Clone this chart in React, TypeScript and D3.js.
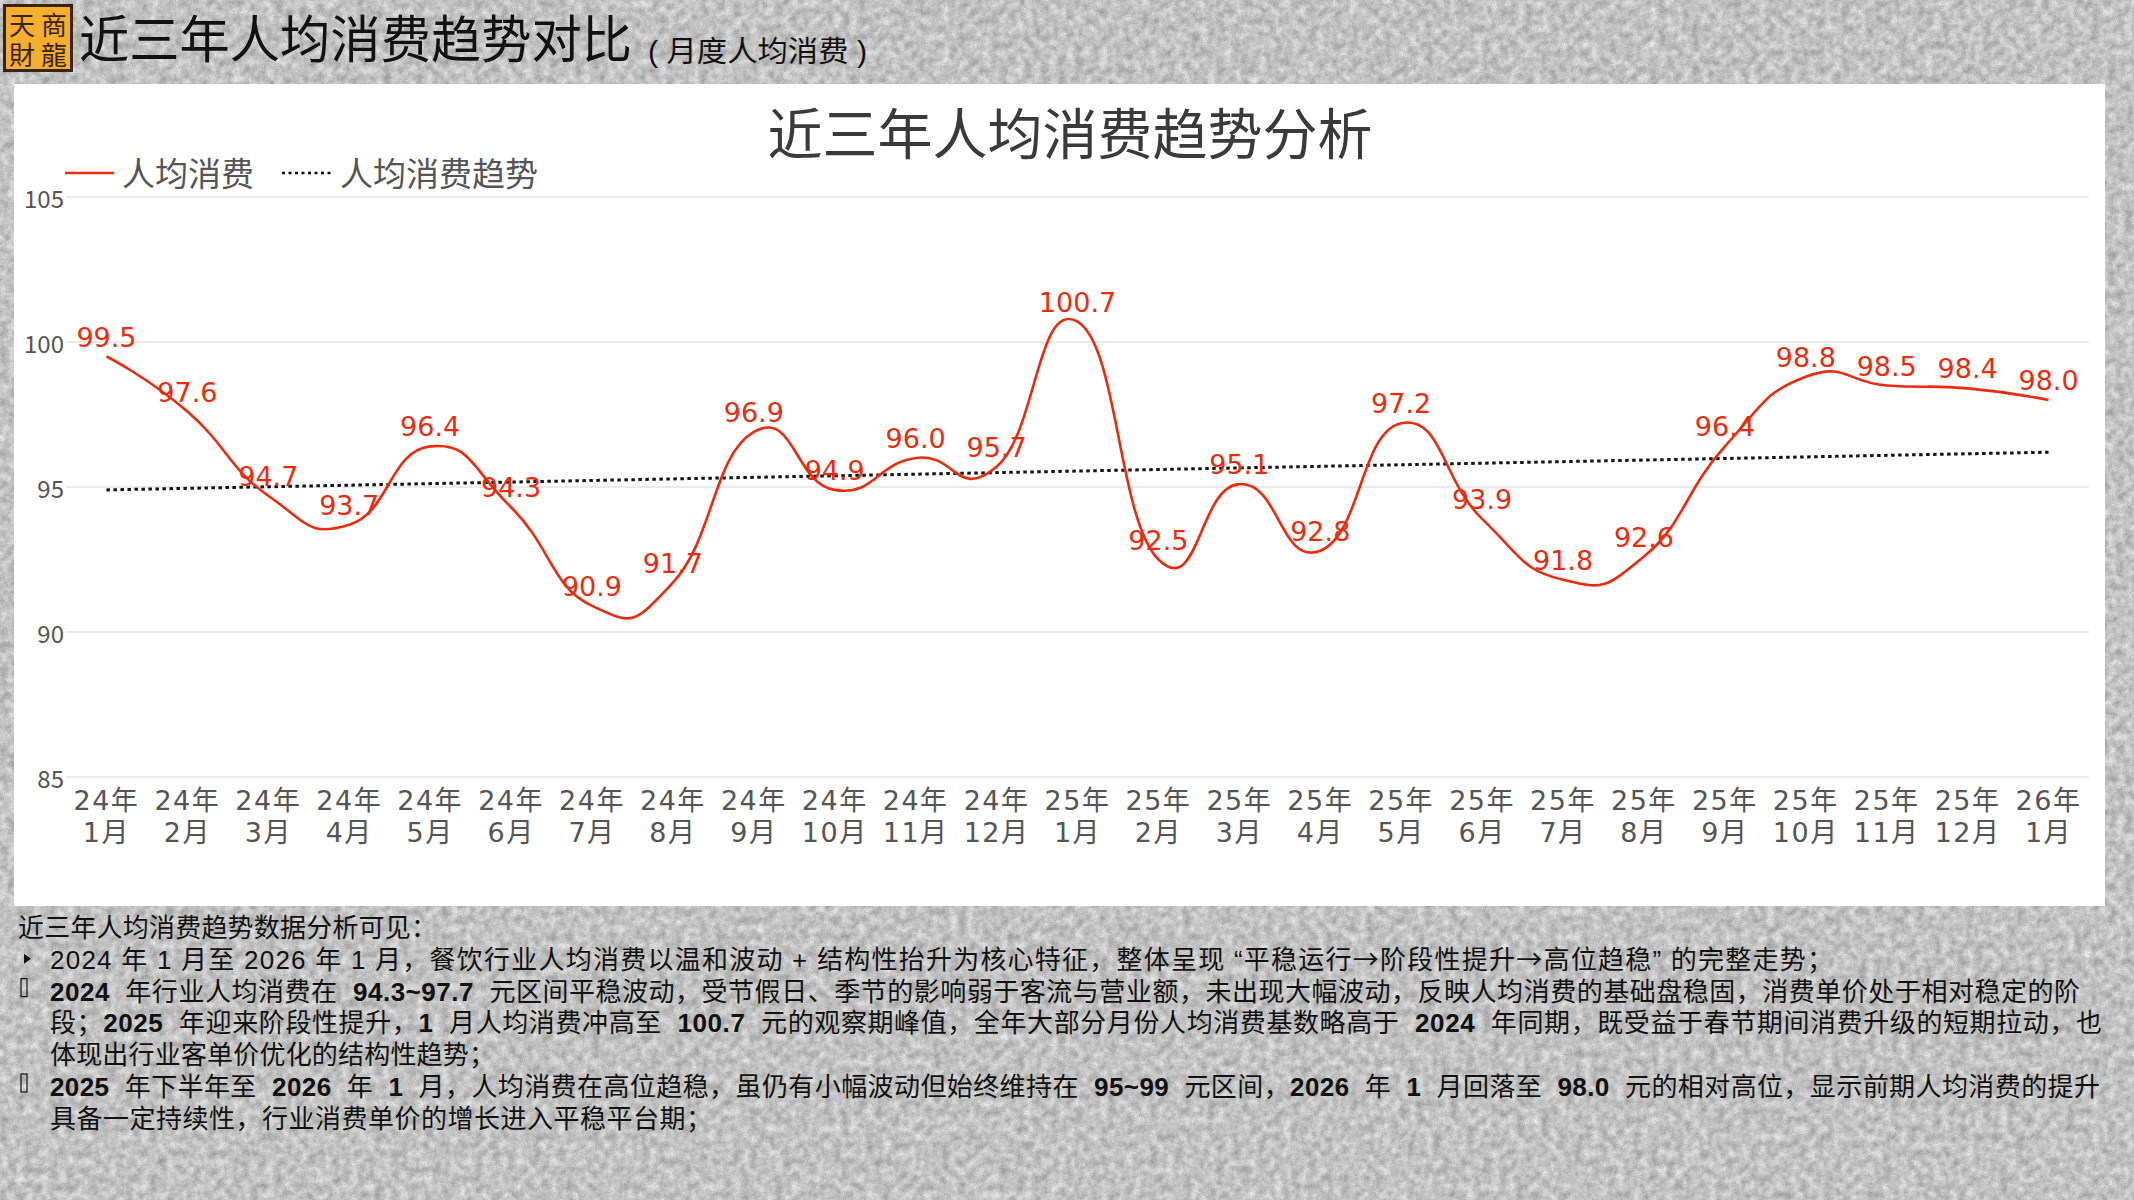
import { useEffect } from 'react';
import * as d3 from 'd3';

const categories = [
  '24年 1月', '24年 2月', '24年 3月', '24年 4月', '24年 5月', '24年 6月', '24年 7月', '24年 8月',
  '24年 9月', '24年 10月', '24年 11月', '24年 12月', '25年 1月', '25年 2月', '25年 3月', '25年 4月',
  '25年 5月', '25年 6月', '25年 7月', '25年 8月', '25年 9月', '25年 10月', '25年 11月', '25年 12月',
  '26年 1月',
];
const spending = [
  99.5, 97.6, 94.7, 93.7, 96.4, 94.3, 90.9, 91.7, 96.9, 94.9, 96.0, 95.7,
  100.7, 92.5, 95.1, 92.8, 97.2, 93.9, 91.8, 92.6, 96.4, 98.8, 98.5, 98.4, 98.0,
];
// trend line end points
const trendEnds = [94.9, 96.2];
const yTicks = [85, 90, 95, 100, 105];

type Seg = { t: string; b?: boolean; cjk?: boolean };
const footerLines: { segs: Seg[]; x: number; end: number; mark?: 'arrow' | 'box' }[] = [
  { x: 18, end: 437, segs: [{ t: '近三年人均消费趋势数据分析可见：' }] },
  {
    x: 50, end: 1833, mark: 'arrow',
    segs: [
      { t: '2024 年 1 月至 2026 年 1 月，餐饮行业人均消费以温和波动 + 结构性抬升为核心特征，整体呈现 “平稳运行' },
      { t: '→', cjk: true }, { t: '阶段性提升' }, { t: '→', cjk: true }, { t: '高位趋稳” 的完整走势；' },
    ],
  },
  {
    x: 50, end: 2080, mark: 'box',
    segs: [
      { t: '2024', b: true }, { t: '  年行业人均消费在  ' }, { t: '94.3~97.7', b: true },
      { t: '  元区间平稳波动，受节假日、季节的影响弱于客流与营业额，未出现大幅波动，反映人均消费的基础盘稳固，消费单价处于相对稳定的阶' },
    ],
  },
  {
    x: 50, end: 2102,
    segs: [
      { t: '段；' }, { t: '2025', b: true }, { t: '  年迎来阶段性提升，' }, { t: '1', b: true },
      { t: '  月人均消费冲高至  ' }, { t: '100.7', b: true }, { t: '  元的观察期峰值，全年大部分月份人均消费基数略高于  ' },
      { t: '2024', b: true }, { t: '  年同期，既受益于春节期间消费升级的短期拉动，也' },
    ],
  },
  { x: 50, end: 495, segs: [{ t: '体现出行业客单价优化的结构性趋势；' }] },
  {
    x: 50, end: 2100, mark: 'box',
    segs: [
      { t: '2025', b: true }, { t: '  年下半年至  ' }, { t: '2026', b: true }, { t: '  年  ' }, { t: '1', b: true },
      { t: '  月，人均消费在高位趋稳，虽仍有小幅波动但始终维持在  ' }, { t: '95~99', b: true }, { t: '  元区间，' },
      { t: '2026', b: true }, { t: '  年  ' }, { t: '1', b: true }, { t: '  月回落至  ' }, { t: '98.0', b: true },
      { t: '  元的相对高位，显示前期人均消费的提升' },
    ],
  },
  { x: 50, end: 712, segs: [{ t: '具备一定持续性，行业消费单价的增长进入平稳平台期；' }] },
];

const RED = '#ee2a0c';
const CJK = '"Noto Sans CJK SC", "Noto Sans", sans-serif';

export default function App() {
  useEffect(() => {
    document.body.style.margin = '0';
  }, []);

  const W = 2134;
  const H = 1200;
  const plot = { left: 66, right: 2089, top: 197, bottom: 777 };

  const x = d3.scaleBand().domain(categories).range([plot.left, plot.right]);
  const cx = (c: string) => (x(c) || 0) + x.bandwidth() / 2;
  const y = d3.scaleLinear().domain([85, 105]).range([plot.bottom, plot.top]);

  const line = d3
    .line<number>()
    .x((_, i) => cx(categories[i]))
    .y(v => y(v))
    .curve(d3.curveCardinal.tension(-0.5));

  const trendLine = d3
    .line<number>()
    .x((_, i) => cx(categories[i === 0 ? 0 : categories.length - 1]))
    .y(v => y(v));

  return (
    <svg width={W} height={H} style={{ display: 'block' }} xmlns="http://www.w3.org/2000/svg">
      <defs>
        <filter id="paper" x="0" y="0" width="100%" height="100%" colorInterpolationFilters="sRGB">
          <feTurbulence type="fractalNoise" baseFrequency="0.12" numOctaves="5" seed="4" result="coarse" />
          <feColorMatrix in="coarse" type="matrix"
            values="0.38 0 0 0 0.6  0.38 0 0 0 0.6  0.38 0 0 0 0.6  0 0 0 0 1" result="coarseGray" />
          <feTurbulence type="fractalNoise" baseFrequency="0.9" numOctaves="2" seed="9" result="fine" />
          <feColorMatrix in="fine" type="matrix"
            values="0 0 0 0 0.2  0 0 0 0 0.2  0 0 0 0 0.2  0.3 0 0 0 -0.1" result="grain" />
          <feComposite in="grain" in2="coarseGray" operator="over" />
        </filter>
      </defs>
      <rect x={0} y={0} width={W} height={H} fill="#c6c6c6" filter="url(#paper)" />

      {/* logo */}
      <rect x={4.5} y={5.5} width={67} height={65} fill="#f4b02c" stroke="#3a2410" strokeWidth={3} />
      <text fontFamily={'"Noto Sans CJK TC", sans-serif'} fontSize={26} fill="#3a2210" textAnchor="middle" dominantBaseline="central">
        <tspan x={22} y={23}>天</tspan>
        <tspan x={54} y={23}>商</tspan>
        <tspan x={22} y={53}>財</tspan>
        <tspan x={54} y={53}>龍</tspan>
      </text>

      {/* page title */}
      <text x={79} y={58} fontFamily={CJK} fontSize={51} fill="#111" textLength={553} lengthAdjust="spacingAndGlyphs">
        近三年人均消费趋势对比
      </text>
      <text x={648} y={62} fontFamily={'"Liberation Sans", "Noto Sans CJK SC", sans-serif'} fontSize={29} fill="#111"
        textLength={219} lengthAdjust="spacingAndGlyphs" style={{ whiteSpace: 'pre' }}>
        ( 月度人均消费 )
      </text>

      {/* chart panel */}
      <rect x={14} y={84} width={2091} height={822} fill="#ffffff" />
      <text x={1070} y={130} textAnchor="middle" dominantBaseline="central" fontFamily={CJK} fontSize={55} fill="#3a3a3a">
        近三年人均消费趋势分析
      </text>

      {/* legend */}
      <line x1={65} x2={114} y1={173} y2={173} stroke={RED} strokeWidth={2.5} />
      <text x={122} y={172} dominantBaseline="central" fontFamily={CJK} fontSize={33} fill="#555">人均消费</text>
      <line x1={282} x2={331} y1={173} y2={173} stroke="#111" strokeWidth={2.5} strokeDasharray="3 3.5" />
      <text x={340} y={172} dominantBaseline="central" fontFamily={CJK} fontSize={33} fill="#555">人均消费趋势</text>

      {/* grid + y axis */}
      {yTicks.map(t => (
        <g key={t}>
          <line x1={plot.left} x2={plot.right} y1={y(t)} y2={y(t)} stroke="#e3e3e3" strokeWidth={1.5} />
          <text x={64} y={y(t)} textAnchor="end" dominantBaseline="central" fontFamily={CJK} fontSize={24} fill="#555">
            {t}
          </text>
        </g>
      ))}

      {/* x axis labels */}
      {categories.map(c => {
        const [yr, mo] = c.split(' ');
        return (
          <g key={c} fontFamily={'"DejaVu Sans", "Noto Sans CJK SC", sans-serif'} fontSize={27} fill="#555"
            textAnchor="middle" letterSpacing={1.5}>
            <text x={cx(c)} y={800} dominantBaseline="central">{yr}</text>
            <text x={cx(c)} y={832} dominantBaseline="central">{mo}</text>
          </g>
        );
      })}

      {/* trend */}
      <path d={trendLine(trendEnds) || ''} fill="none" stroke="#111" strokeWidth={3} strokeDasharray="3.5 3.5" />

      {/* series */}
      <path d={line(spending) || ''} fill="none" stroke={RED} strokeWidth={2.6} />
      {spending.map((v, i) => (
        <text
          key={i}
          x={cx(categories[i])}
          y={y(v) - 10}
          textAnchor="middle"
          fontFamily={'"DejaVu Sans", sans-serif'}
          fontSize={27}
          fill={RED}
        >
          {v.toFixed(1)}
        </text>
      ))}

      {/* footer notes */}
      <g fontFamily={'"Liberation Sans", "Noto Sans CJK SC", sans-serif'} fontSize={26} fill="#111">
        {footerLines.map((ln, i) => {
          const base = 937 + i * 31.8;
          return (
            <g key={i}>
              {ln.mark === 'arrow' && (
                <path d={`M24,${base - 15} L31,${base - 10} L24,${base - 5} Z`} fill="#111" />
              )}
              {ln.mark === 'box' && (
                <rect x={21} y={base - 22} width={6} height={18} fill="none" stroke="#111" strokeWidth={1.2} />
              )}
              <text x={ln.x} y={base} textLength={ln.end - ln.x} lengthAdjust="spacing" style={{ whiteSpace: 'pre' }}>
                {ln.segs.map((s, j) => (
                  <tspan key={j} fontWeight={s.b ? 'bold' : 'normal'} fontFamily={s.cjk ? CJK : undefined}>{s.t}</tspan>
                ))}
              </text>
            </g>
          );
        })}
      </g>
    </svg>
  );
}
